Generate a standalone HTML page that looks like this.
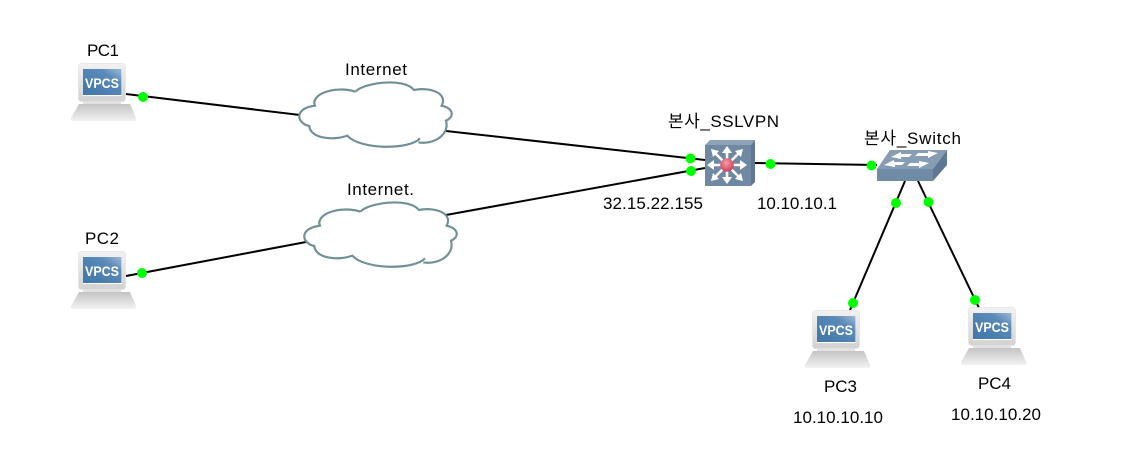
<!DOCTYPE html>
<html><head><meta charset="utf-8"><style>
html,body{margin:0;padding:0;background:#fff;width:1128px;height:461px;overflow:hidden}
svg{display:block}
text{font-family:"Liberation Sans","Noto Sans CJK KR",sans-serif;font-size:17px;fill:#000}
</style></head><body>
<svg width="1128" height="461" viewBox="0 0 1128 461" xmlns="http://www.w3.org/2000/svg">
<defs>
<linearGradient id="mon" x1="0" y1="0" x2="0" y2="1"><stop offset="0" stop-color="#f2f2f2"/><stop offset="1" stop-color="#d2d2d2"/></linearGradient>
<linearGradient id="base" x1="0" y1="0" x2="0" y2="1"><stop offset="0" stop-color="#c4c4c4"/><stop offset="1" stop-color="#f2f2f2"/></linearGradient>
<linearGradient id="scr" x1="0" y1="1" x2="1" y2="0"><stop offset="0" stop-color="#3f75a9"/><stop offset=".7" stop-color="#5a8ab8"/><stop offset="1" stop-color="#9dbad6"/></linearGradient>
<radialGradient id="red" cx=".45" cy=".35" r=".7"><stop offset="0" stop-color="#f59aa8"/><stop offset="1" stop-color="#cf3850"/></radialGradient>
<g id="pc">
<rect x="5" y="37" width="38" height="5" fill="#e2e2e2"/>
<path d="M1 41H52L58 55Q59 58 56 58H-5Q-8 58 -7 55Z" fill="url(#base)"/>
<rect x=".5" y=".5" width="47" height="38" rx="3" fill="url(#mon)" stroke="#e2e2e2" stroke-width=".7"/>
<rect x="5" y="6" width="39" height="27" fill="#fff"/>
<rect x="5" y="6" width="38.500" height="26" fill="url(#scr)"/>
<text x="7" y="25" textLength="34" lengthAdjust="spacingAndGlyphs" style="font-size:13.500px;font-weight:bold;fill:#fff">VPCS</text>
</g>
<path id="cloud" transform="scale(.3333)" d="M197 110C215 85 340 65 372 105C420 95 475 115 455 152C490 160 495 185 468 197C480 240 430 270 385 262M390 250C360 285 210 285 172 242C130 258 60 250 58 213C20 205 10 160 75 152C60 120 130 90 197 110" fill="#fff" stroke="#6f9096" stroke-width="6.500"/>
</defs>
<g stroke="#000" stroke-width="2" fill="none">
<line x1="126" y1="94" x2="300" y2="115"/>
<line x1="446" y1="131" x2="705" y2="160"/>
<line x1="126" y1="276" x2="306" y2="242"/>
<line x1="446" y1="215" x2="705" y2="168"/>
<line x1="755" y1="163" x2="877" y2="165"/>
<line x1="905" y1="181" x2="850" y2="310"/>
<line x1="918" y1="181" x2="979" y2="308"/>
</g>
<use href="#cloud" x="290" y="55"/>
<use href="#cloud" x="295" y="175"/>
<use href="#pc" x="78" y="63"/>
<use href="#pc" x="78" y="251"/>
<use href="#pc" x="812" y="310"/>
<use href="#pc" x="968" y="307"/>
<!-- router -->
<polygon points="705,145 710,140 755,140 751,145" fill="#8ea3b8"/>
<polygon points="751,145 755,140 755,182 751,186" fill="#5d7890"/>
<rect x="705" y="145" width="46" height="41" fill="#7089a3"/>
<g stroke="#fff" stroke-width="2.600" fill="none">
<line x1="711" y1="165" x2="743" y2="165"/><line x1="727" y1="150" x2="727" y2="181"/>
<line x1="714" y1="152" x2="740" y2="178"/><line x1="740" y1="152" x2="714" y2="178"/>
</g>
<g fill="#fff">
<polygon points="707,165 714,160 714,170"/><polygon points="747,165 740,160 740,170"/>
<polygon points="727,146 722,153 732,153"/><polygon points="727,184 722,177 732,177"/>
<polygon points="711,149 719,151 713,157"/><polygon points="743,149 735,151 741,157"/>
<polygon points="711,181 719,179 713,173"/><polygon points="743,181 735,179 741,173"/>
</g>
<circle cx="727" cy="165" r="6.800" fill="url(#red)"/>
<!-- switch -->
<polygon points="877,169 890,150 947,150 933,169" fill="#869db4"/>
<polygon points="933,169 947,150 947,165 933,181" fill="#5d7890"/>
<rect x="877" y="169" width="56" height="12" fill="#6f8ba6"/>
<g fill="#fff">
<polygon points="884,165 894,160 894,162 905,162 902,165 895,165 895,167"/>
<polygon points="891,157 901,152 901,154 912,154 909,157 901,157 901,159"/>
<polygon points="929,163 919,168 919,166 907,166 910,163 919,163 919,161"/>
<polygon points="938,153 928,158 928,156 915,156 918,153 928,153 928,151"/>
</g>
<!-- dots -->
<g fill="#0f0">
<circle cx="143" cy="97" r="5"/><circle cx="142" cy="273" r="5"/>
<circle cx="690.500" cy="158.500" r="5"/><circle cx="691" cy="171" r="5"/>
<circle cx="770.500" cy="164" r="5"/><circle cx="871.500" cy="165.500" r="5"/>
<circle cx="896" cy="203" r="5"/><circle cx="928.500" cy="202" r="5"/>
<circle cx="853" cy="303" r="5"/><circle cx="975" cy="300" r="5"/>
</g>
<!-- labels -->
<text x="87" y="56" textLength="32" lengthAdjust="spacing">PC1</text>
<text x="85" y="244" textLength="34" lengthAdjust="spacing">PC2</text>
<text x="824" y="392" textLength="33" lengthAdjust="spacing">PC3</text>
<text x="978" y="389" textLength="33" lengthAdjust="spacing">PC4</text>
<text x="345" y="75" textLength="62" lengthAdjust="spacing">Internet</text>
<text x="347" y="195" textLength="67" lengthAdjust="spacing">Internet.</text>
<text x="668" y="127" textLength="111" lengthAdjust="spacing">본사_SSLVPN</text>
<text x="864" y="144" textLength="97" lengthAdjust="spacing">본사_Switch</text>
<text x="603" y="209" textLength="100" lengthAdjust="spacing">32.15.22.155</text>
<text x="757" y="209" textLength="80" lengthAdjust="spacing">10.10.10.1</text>
<text x="793" y="423" textLength="90" lengthAdjust="spacing">10.10.10.10</text>
<text x="951" y="420" textLength="90" lengthAdjust="spacing">10.10.10.20</text>
</svg>
</body></html>
